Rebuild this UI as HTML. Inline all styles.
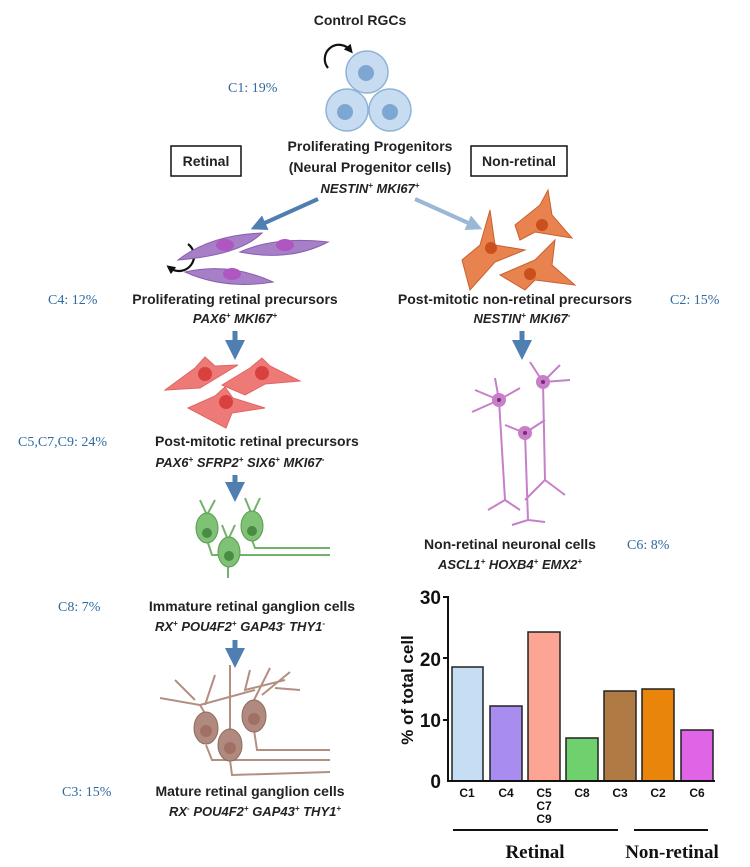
<!DOCTYPE html>
<html><head><meta charset="utf-8"><style>
html,body{margin:0;padding:0;background:#fff}
svg{display:block}
.b{font-family:"Liberation Sans",sans-serif;font-weight:bold;font-size:14px;fill:#222}
.i{font-family:"Liberation Sans",sans-serif;font-weight:bold;font-style:italic;font-size:13px;fill:#222}
.c{font-family:"Liberation Serif",serif;font-size:14px;fill:#2e6a9e}
.t{font-family:"Liberation Sans",sans-serif;font-weight:bold;font-size:12px;fill:#111}
</style></head><body>
<svg width="750" height="867" viewBox="0 0 750 867" xmlns="http://www.w3.org/2000/svg">
<defs>
<marker id="ah" markerWidth="4" markerHeight="4" refX="2" refY="2" orient="auto"><path d="M0,0L4,2L0,4z" fill="#4f7fb0"/></marker>
<marker id="ah2" markerWidth="4" markerHeight="4" refX="2" refY="2" orient="auto"><path d="M0,0L4,2L0,4z" fill="#9ab8d6"/></marker>
<marker id="ak" markerWidth="4" markerHeight="4" refX="2" refY="2" orient="auto"><path d="M0,0L4,2L0,4z" fill="#111"/></marker>
</defs>
<text class="b" x="360" y="25" text-anchor="middle">Control RGCs</text>
<path d="M328,68 A14,14 0 1 1 350,50" fill="none" stroke="#111" stroke-width="2.2" marker-end="url(#ak)"/>
<g fill="#c7dcf0" stroke="#8fb2d6" stroke-width="1.5">
<circle cx="367" cy="72" r="21"/><circle cx="347" cy="110" r="21"/><circle cx="390" cy="110" r="21"/></g>
<g fill="#7ea6d2"><circle cx="366" cy="73" r="8"/><circle cx="345" cy="112" r="8"/><circle cx="390" cy="112" r="8"/></g>
<text class="c" x="228" y="92">C1: 19%</text>
<text class="b" x="370" y="151" text-anchor="middle">Proliferating Progenitors</text>
<text class="b" x="370" y="172" text-anchor="middle">(Neural Progenitor cells)</text>
<text class="i" x="370" y="193" text-anchor="middle">NESTIN<tspan font-size="8" dy="-5">+</tspan><tspan dy="5"> MKI67</tspan><tspan font-size="8" dy="-5">+</tspan></text>
<rect x="171" y="146" width="70" height="30" fill="none" stroke="#111" stroke-width="1.5"/>
<text class="b" x="206" y="166" text-anchor="middle">Retinal</text>
<rect x="471" y="146" width="96" height="30" fill="none" stroke="#111" stroke-width="1.5"/>
<text class="b" x="519" y="166" text-anchor="middle">Non-retinal</text>
<line x1="318" y1="199" x2="258" y2="226" stroke="#4f7fb0" stroke-width="4" marker-end="url(#ah)"/>
<line x1="415" y1="199" x2="475" y2="226" stroke="#9ab8d6" stroke-width="4" marker-end="url(#ah2)"/>
<path d="M172,272 A13,13 0 1 1 190,248" fill="none" stroke="#111" stroke-width="2.2" transform="rotate(180 180 258)" marker-end="url(#ak)"/>
<g fill="#a67fc7" stroke="#8a5eb0">
<path d="M178,260 Q210,235 262,233 Q240,255 178,260z"/>
<path d="M240,252 Q275,236 328,242 Q290,262 240,252z"/>
<path d="M185,272 Q230,262 273,282 Q225,290 185,272z"/></g>
<g fill="#b056c0"><ellipse cx="225" cy="245" rx="9" ry="6"/><ellipse cx="285" cy="245" rx="9" ry="6"/><ellipse cx="232" cy="274" rx="9" ry="6"/></g>
<g fill="#e8834f" stroke="#c8612e">
<path d="M462,260 L480,245 L490,210 L495,245 L525,250 L495,262 L470,290z"/>
<path d="M515,225 L540,205 L548,190 L552,215 L572,238 L535,232 L520,240z"/>
<path d="M500,275 L535,260 L555,240 L552,265 L575,285 L535,280 L525,290z"/></g>
<g fill="#c9501c"><circle cx="491" cy="248" r="6"/><circle cx="542" cy="225" r="6"/><circle cx="530" cy="274" r="6"/></g>
<text class="c" x="48" y="304">C4: 12%</text>
<text class="b" x="235" y="304" text-anchor="middle">Proliferating retinal precursors</text>
<text class="i" x="235" y="323" text-anchor="middle">PAX6<tspan font-size="8" dy="-5">+</tspan><tspan dy="5"> MKI67</tspan><tspan font-size="8" dy="-5">+</tspan></text>
<text class="b" x="515" y="304" text-anchor="middle">Post-mitotic non-retinal precursors</text>
<text class="c" x="670" y="304">C2: 15%</text>
<text class="i" x="522" y="323" text-anchor="middle">NESTIN<tspan font-size="8" dy="-5">+</tspan><tspan dy="5"> MKI67</tspan><tspan font-size="8" dy="-5">-</tspan></text>
<line x1="235" y1="331" x2="235" y2="350" stroke="#4f7fb0" stroke-width="5" marker-end="url(#ah)"/>
<line x1="522" y1="331" x2="522" y2="350" stroke="#4f7fb0" stroke-width="5" marker-end="url(#ah)"/>
<!-- red cells -->
<g fill="#ee7a78" stroke="#e06664">
<path d="M165,390 L195,368 L205,357 L215,366 L238,365 L200,388z"/>
<path d="M222,385 L250,368 L262,358 L270,366 L300,381 L265,384 L245,395z"/>
<path d="M188,408 L215,396 L225,387 L233,398 L265,408 L232,413 L226,428z"/></g>
<g fill="#d8413f"><circle cx="205" cy="374" r="7"/><circle cx="262" cy="373" r="7"/><circle cx="226" cy="402" r="7"/></g>
<!-- pink neurons -->
<g stroke="#c77fc9" stroke-width="2" fill="none">
<path d="M499,400 L475,390 M499,400 L472,412 M499,400 L495,378 M499,400 L520,388 M543,382 L530,362 M543,382 L560,365 M543,382 L570,380 M543,382 L545,480 L525,500 M545,480 L565,495 M499,400 L505,500 L488,510 M505,500 L520,510 M525,433 L505,425 M525,433 L545,420 M525,433 L528,520 L512,525 M528,520 L545,522"/>
</g>
<g fill="#c77fc9"><circle cx="499" cy="400" r="7"/><circle cx="543" cy="382" r="7"/><circle cx="525" cy="433" r="7"/></g>
<g fill="#7a2a7a"><circle cx="499" cy="400" r="2"/><circle cx="543" cy="382" r="2"/><circle cx="525" cy="433" r="2"/></g>
<text class="b" x="510" y="549" text-anchor="middle">Non-retinal neuronal cells</text>
<text class="c" x="627" y="549">C6: 8%</text>
<text class="i" x="510" y="569" text-anchor="middle">ASCL1<tspan font-size="8" dy="-5">+</tspan><tspan dy="5"> HOXB4</tspan><tspan font-size="8" dy="-5">+</tspan><tspan dy="5"> EMX2</tspan><tspan font-size="8" dy="-5">+</tspan></text>
<text class="c" x="18" y="446">C5,C7,C9: 24%</text>
<text class="b" x="155" y="446">Post-mitotic retinal precursors</text>
<text class="i" x="240" y="467" text-anchor="middle">PAX6<tspan font-size="8" dy="-5">+</tspan><tspan dy="5"> SFRP2</tspan><tspan font-size="8" dy="-5">+</tspan><tspan dy="5"> SIX6</tspan><tspan font-size="8" dy="-5">+</tspan><tspan dy="5"> MKI67</tspan><tspan font-size="8" dy="-5">-</tspan></text>
<line x1="235" y1="475" x2="235" y2="492" stroke="#4f7fb0" stroke-width="5" marker-end="url(#ah)"/>
<g stroke="#72b26a" stroke-width="2" fill="none">
<path d="M207,540 L212,555 L330,555 M228,560 L228,578 M252,540 L255,548 L330,548 M207,515 L200,500 M207,515 L215,500 M228,540 L222,525 M228,540 L235,525 M252,515 L245,498 M252,515 L260,498"/></g>
<g fill="#7fc276" stroke="#5a9a52"><ellipse cx="207" cy="528" rx="11" ry="15"/><ellipse cx="229" cy="552" rx="11" ry="15"/><ellipse cx="252" cy="526" rx="11" ry="15"/></g>
<g fill="#4a8c44"><circle cx="207" cy="533" r="5"/><circle cx="229" cy="556" r="5"/><circle cx="252" cy="531" r="5"/></g>
<text class="c" x="58" y="611">C8: 7%</text>
<text class="b" x="252" y="611" text-anchor="middle">Immature retinal ganglion cells</text>
<text class="i" x="240" y="631" text-anchor="middle">RX<tspan font-size="8" dy="-5">+</tspan><tspan dy="5"> POU4F2</tspan><tspan font-size="8" dy="-5">+</tspan><tspan dy="5"> GAP43</tspan><tspan font-size="8" dy="-5">-</tspan><tspan dy="5"> THY1</tspan><tspan font-size="8" dy="-5">-</tspan></text>
<line x1="235" y1="640" x2="235" y2="658" stroke="#4f7fb0" stroke-width="5" marker-end="url(#ah)"/>
<g stroke="#b38f82" stroke-width="2" fill="none">
<path d="M160,698 L200,705 L206,715 M175,680 L195,700 M215,675 L205,705 M230,665 L230,700 L230,730 M250,670 L245,690 L285,680 M270,668 L254,700 M290,672 L262,695 M300,690 L275,688 M200,705 L255,690 M206,745 L212,760 L330,760 M230,760 L232,775 L330,772 M254,730 L257,750 L330,750"/></g>
<g fill="#b08a7e" stroke="#8e6a5e"><ellipse cx="206" cy="728" rx="12" ry="16"/><ellipse cx="230" cy="745" rx="12" ry="16"/><ellipse cx="254" cy="716" rx="12" ry="16"/></g>
<g fill="#a07064"><circle cx="206" cy="731" r="6"/><circle cx="230" cy="748" r="6"/><circle cx="254" cy="719" r="6"/></g>
<text class="c" x="62" y="796">C3: 15%</text>
<text class="b" x="250" y="796" text-anchor="middle">Mature retinal ganglion cells</text>
<text class="i" x="255" y="816" text-anchor="middle">RX<tspan font-size="8" dy="-5">-</tspan><tspan dy="5"> POU4F2</tspan><tspan font-size="8" dy="-5">+</tspan><tspan dy="5"> GAP43</tspan><tspan font-size="8" dy="-5">+</tspan><tspan dy="5"> THY1</tspan><tspan font-size="8" dy="-5">+</tspan></text>
<g stroke="#222" stroke-width="1.5">
<rect x="452" y="667" width="31" height="114" fill="#c6def3"/>
<rect x="490" y="706" width="32" height="75" fill="#a88cf0"/>
<rect x="528" y="632" width="32" height="149" fill="#fca595"/>
<rect x="566" y="738" width="32" height="43" fill="#6fd16e"/>
<rect x="604" y="691" width="32" height="90" fill="#b07a45"/>
<rect x="642" y="689" width="32" height="92" fill="#e8850a"/>
<rect x="681" y="730" width="32" height="51" fill="#e065e6"/>
</g>
<g stroke="#111" stroke-width="2">
<line x1="448" y1="596" x2="448" y2="782"/><line x1="447" y1="781" x2="715" y2="781"/>
<line x1="443" y1="597" x2="448" y2="597"/><line x1="443" y1="658" x2="448" y2="658"/><line x1="443" y1="720" x2="448" y2="720"/>
<line x1="453" y1="830" x2="618" y2="830"/><line x1="634" y1="830" x2="708" y2="830"/></g>
<g font-family="Liberation Sans,sans-serif" font-weight="bold" font-size="19" fill="#111" text-anchor="end">
<text x="441" y="604">30</text><text x="441" y="666">20</text><text x="441" y="727">10</text><text x="441" y="788">0</text></g>
<text x="413" y="690" font-family="Liberation Sans,sans-serif" font-weight="bold" font-size="17" fill="#111" text-anchor="middle" transform="rotate(-90 413 690)">% of total cell</text>
<g class="t" text-anchor="middle">
<text class="t" x="467" y="797">C1</text><text class="t" x="506" y="797">C4</text><text class="t" x="544" y="797">C5</text><text class="t" x="544" y="810">C7</text><text class="t" x="544" y="823">C9</text><text class="t" x="582" y="797">C8</text><text class="t" x="620" y="797">C3</text><text class="t" x="658" y="797">C2</text><text class="t" x="697" y="797">C6</text></g>
<g font-family="Liberation Serif,serif" font-weight="bold" font-size="19" fill="#111" text-anchor="middle">
<text x="535" y="858">Retinal</text><text x="672" y="858">Non-retinal</text></g>
</svg>
</body></html>
